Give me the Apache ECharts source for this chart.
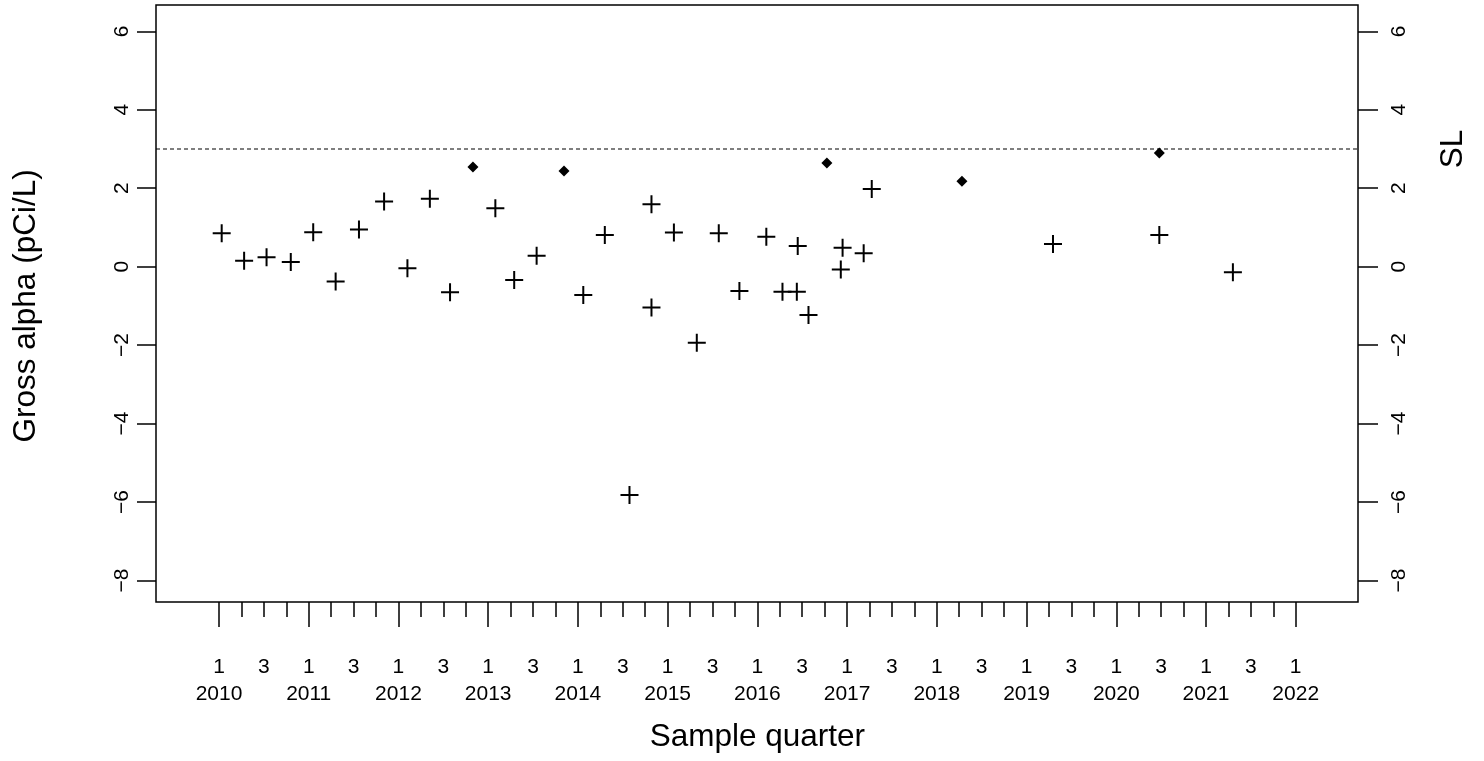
<!DOCTYPE html>
<html><head><meta charset="utf-8">
<script src="https://cdn.jsdelivr.net/npm/echarts@6/dist/echarts.min.js"></script>
<style>html,body{margin:0;padding:0;background:#fff}#chart{width:1484px;height:761px}</style>
</head><body><div id="chart"></div>
<script>
// ---- data (sample date as decimal year, gross alpha in pCi/L) ----
const plusYears = [2010.03, 2010.28, 2010.53, 2010.80, 2011.05, 2011.30, 2011.56, 2011.84, 2012.10, 2012.35, 2012.575,
  2013.08, 2013.29, 2013.54, 2014.06, 2014.30, 2014.575, 2014.82, 2014.82, 2015.07, 2015.325, 2015.57, 2015.80,
  2016.10, 2016.28, 2016.44, 2016.45, 2016.57, 2016.93, 2016.95, 2017.185, 2017.275, 2019.295, 2020.48, 2021.30];
const plusValues = [0.85, 0.15, 0.24, 0.12, 0.88, -0.38, 0.95, 1.66, -0.04, 1.73, -0.65,
  1.49, -0.34, 0.28, -0.72, 0.81, -5.82, 1.59, -1.04, 0.87, -1.94, 0.85, -0.62,
  0.76, -0.64, -0.64, 0.53, -1.23, -0.07, 0.48, 0.34, 1.98, 0.58, 0.81, -0.14];
const diamondYears = [2012.83, 2013.845, 2016.775, 2018.28, 2020.48];
const diamondValues = [2.54, 2.44, 2.64, 2.18, 2.90];
const screeningLevel = 3;
const yearRange = [2010, 2022];
const valueRange = [-8, 6];
const quarterTickLabels = ['1', '', '3', ''];
const xTitle = 'Sample quarter';
const yTitle = 'Gross alpha (pCi/L)';
const slTitle = 'SL';

// ---- layout ----
const W = 1484, H = 761;
const tick = {l: 219, r: 1295.7, t: 31.3, b: 580.5};   // pixel extent of first/last ticks
const box = {l: 156, r: 1358, t: 5, b: 602};           // plot box
const pxX = (tick.r - tick.l) / (yearRange[1] - yearRange[0]);
const pxY = (tick.b - tick.t) / (valueRange[1] - valueRange[0]);
const boxX = [yearRange[0] - (tick.l - box.l) / pxX, yearRange[1] + (box.r - tick.r) / pxX];
const boxY = [valueRange[0] - (box.b - tick.b) / pxY, valueRange[1] + (tick.t - box.t) / pxY];
const FONT = "'Liberation Sans', Arial, Helvetica, sans-serif";
const txt = (size) => ({color: '#000', fontSize: size, fontFamily: FONT});
const pairs = (xs, ys) => xs.map((x, i) => [x, ys[i]]);
const minus = v => String(v).replace('-', '\u2212');

const plusPath = 'path://M8,0H10V8H18V10H10V18H8V10H0V8H8Z';

const chart = echarts.init(document.getElementById('chart'), null, {renderer: 'canvas'});
chart.setOption({
  animation: false,
  backgroundColor: '#fff',
  grid: [
    {left: tick.l, right: W - tick.r, top: tick.t, bottom: H - tick.b, show: false, outerBoundsMode: 'none', containLabel: false},
    {left: box.l, right: W - box.r, top: box.t, bottom: H - box.b, show: true, borderColor: '#000', borderWidth: 1.5,
     backgroundColor: 'transparent', outerBoundsMode: 'none', containLabel: false}
  ],
  xAxis: [
    {gridIndex: 0, type: 'value', min: yearRange[0], max: yearRange[1], interval: 0.25, position: 'bottom', offset: box.b - tick.b,
     axisLine: {show: false, onZero: false}, splitLine: {show: false},
     axisTick: {show: true, length: 15, lineStyle: {color: '#000', width: 1.5}},
     axisLabel: Object.assign({margin: 55, hideOverlap: false, showMinLabel: true, showMaxLabel: true,
       formatter: v => quarterTickLabels[((Math.round((v - yearRange[0]) * 4) % 4) + 4) % 4]}, txt(21))},
    {gridIndex: 0, type: 'value', min: yearRange[0], max: yearRange[1], interval: 1, position: 'bottom', offset: box.b - tick.b,
     axisLine: {show: false, onZero: false}, splitLine: {show: false},
     axisTick: {show: true, length: 25, lineStyle: {color: '#000', width: 1.5}},
     axisLabel: Object.assign({margin: 82, hideOverlap: false, showMinLabel: true, showMaxLabel: true,
       formatter: v => String(Math.round(v))}, txt(21)),
     name: xTitle, nameLocation: 'middle', nameGap: 119, nameMoveOverlap: false, nameTextStyle: txt(31.5)},
    {gridIndex: 1, type: 'value', min: boxX[0], max: boxX[1], show: false}
  ],
  yAxis: [
    {gridIndex: 0, type: 'value', min: valueRange[0], max: valueRange[1], interval: 2, position: 'left', offset: tick.l - box.l,
     axisLine: {show: false, onZero: false}, splitLine: {show: false},
     axisTick: {show: true, length: 19, lineStyle: {color: '#000', width: 1.5}},
     axisLabel: Object.assign({rotate: 90, margin: 23, hideOverlap: false, showMinLabel: true, showMaxLabel: true, formatter: minus}, txt(21)),
     name: yTitle, nameLocation: 'middle', nameGap: 114, nameRotate: 90, nameMoveOverlap: false, nameTextStyle: txt(31.5)},
    {gridIndex: 0, type: 'value', min: valueRange[0], max: valueRange[1], interval: 2, position: 'right', offset: box.r - tick.r,
     axisLine: {show: false, onZero: false}, splitLine: {show: false},
     axisTick: {show: true, length: 20, lineStyle: {color: '#000', width: 1.5}},
     axisLabel: Object.assign({rotate: 90, margin: 31, hideOverlap: false, showMinLabel: true, showMaxLabel: true, formatter: minus}, txt(21))},
    {gridIndex: 1, type: 'value', min: boxY[0], max: boxY[1], show: false}
  ],
  series: [
    {name: 'Screening level', type: 'line', xAxisIndex: 2, yAxisIndex: 2, silent: true, symbol: 'none',
     data: [[boxX[0], screeningLevel], [boxX[1], screeningLevel]],
     lineStyle: {color: '#000', width: 1.2, type: [4, 3]}},
    {name: 'SL label', type: 'scatter', xAxisIndex: 2, yAxisIndex: 2, silent: true, symbolSize: 2,
     itemStyle: {color: 'rgba(0,0,0,0)'},
     data: [[boxX[1], screeningLevel]],
     label: Object.assign({show: true, formatter: slTitle, position: [96, 1], rotate: 90, align: 'center', verticalAlign: 'middle',
       opacity: 1, textBorderWidth: 0, textShadowBlur: 0}, txt(31.5))},
    {name: 'Result', type: 'scatter', xAxisIndex: 0, yAxisIndex: 0, clip: false, symbol: plusPath, symbolSize: 18,
     itemStyle: {color: '#000', opacity: 1}, data: pairs(plusYears, plusValues)},
    {name: 'Result near SL', type: 'scatter', xAxisIndex: 0, yAxisIndex: 0, clip: false, symbol: 'diamond', symbolSize: 11,
     itemStyle: {color: '#000', opacity: 1}, data: pairs(diamondYears, diamondValues)}
  ]
});
</script></body></html>
